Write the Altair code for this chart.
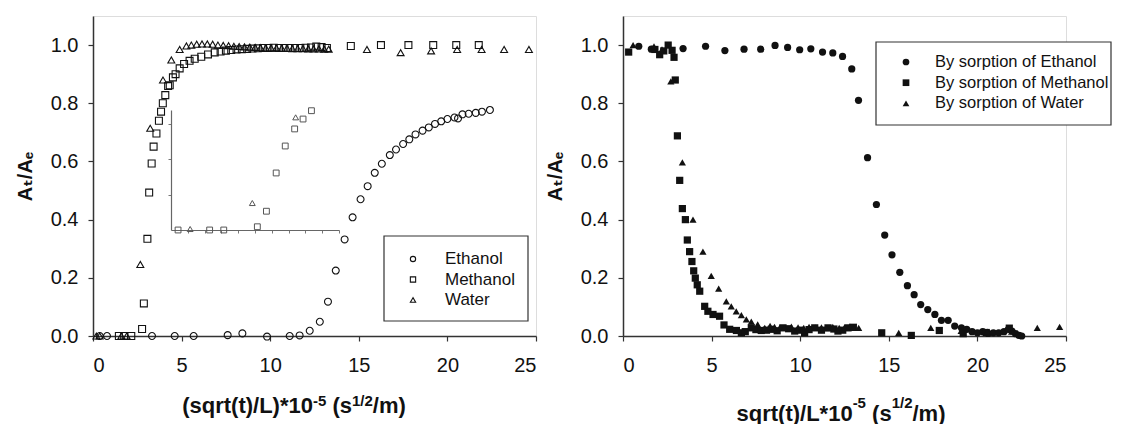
import altair as alt
import pandas as pd

# ---------------- Left panel: sorption (open symbols) ----------------
eth_L_x = [0.38, 0.79, 3.33, 4.61, 5.68, 7.6, 8.43, 9.82, 11.1, 11.66, 12.23, 12.8, 13.26, 13.7, 14.2,
           14.65, 15.1, 15.5, 15.9, 16.3, 16.75, 17.1, 17.5, 17.85, 18.2, 18.6, 18.95, 19.3, 19.65, 20.0,
           20.4, 20.6, 20.85, 21.2, 21.6, 21.95, 22.4]
eth_L_y = [0.0, 0.0, 0.0, 0.0, 0.0, 0.003, 0.009, -0.002, 0.0, 0.002, 0.018, 0.049, 0.118, 0.225, 0.332,
           0.408, 0.47, 0.515, 0.561, 0.592, 0.622, 0.641, 0.66, 0.676, 0.693, 0.706, 0.717, 0.729, 0.738, 0.746,
           0.751, 0.748, 0.762, 0.764, 0.767, 0.771, 0.777]

meth_L_x = [1.46, 1.76, 2.16, 2.77, 2.87, 3.07, 3.17, 3.31, 3.42, 3.58, 3.72, 3.84, 3.94, 4.08, 4.24,
            4.33, 4.51, 4.66, 4.89, 5.14, 5.45, 5.74, 6.11, 6.49, 6.87, 7.2, 7.5, 7.8, 8.1, 8.4,
            8.7, 9.0, 9.3, 9.6, 9.9, 10.2, 10.5, 10.8, 11.1, 11.4, 11.7, 12.0, 12.3, 12.6, 12.9,
            13.2, 14.55, 16.25, 17.8, 19.2, 20.5, 21.77]
meth_L_y = [0.0, 0.0, 0.0, 0.024, 0.112, 0.334, 0.493, 0.593, 0.651, 0.696, 0.74, 0.771, 0.8, 0.828, 0.859,
            0.862, 0.889, 0.9, 0.92, 0.935, 0.946, 0.953, 0.96, 0.968, 0.975, 0.978, 0.981, 0.983, 0.985, 0.986,
            0.987, 0.988, 0.989, 0.99, 0.99, 0.991, 0.99, 0.99, 0.99, 0.99, 0.99, 0.991, 0.992, 0.995, 0.993,
            0.99, 0.997, 1.0, 1.0, 1.0, 1.0, 1.0]

water_L_x = [0.19, 0.38, 1.6, 1.9, 2.67, 3.23, 3.95, 4.42, 4.89, 5.27, 5.55, 5.85, 6.15, 6.45, 6.75,
             7.05, 7.35, 7.65, 7.95, 8.25, 8.55, 8.85, 9.15, 9.45, 9.75, 10.05, 10.35, 10.65, 10.95, 11.25,
             11.55, 11.85, 12.15, 12.45, 12.75, 13.05, 13.3, 15.46, 17.36, 19.08, 20.55, 21.93, 23.2, 24.6]
water_L_y = [0.0, 0.0, 0.0, 0.0, 0.246, 0.714, 0.88, 0.949, 0.985, 0.997, 1.0, 1.003, 1.004, 1.004, 1.003,
             1.0, 0.999, 0.998, 0.996, 0.995, 0.994, 0.993, 0.992, 0.991, 0.99, 0.99, 0.99, 0.989, 0.989, 0.988,
             0.988, 0.988, 0.987, 0.987, 0.987, 0.986, 0.986, 0.985, 0.974, 0.98, 0.985, 0.985, 0.985, 0.985]

# inset (magnified early region, own scale)
inset_series = ["Methanol", "Water", "Methanol", "Methanol", "Methanol", "Water", "Methanol",
                "Methanol", "Methanol", "Methanol", "Water", "Methanol", "Methanol"]
inset_x = [0.21, 0.57, 1.15, 1.57, 2.57, 2.42, 2.84, 3.13, 3.40, 3.68, 3.71, 3.93, 4.18]
inset_y = [0.0, 0.007, 0.0, 0.0, 0.023, 0.191, 0.133, 0.404, 0.595, 0.716, 0.798, 0.786, 0.845]

# ---------------- Right panel: desorption (filled symbols) ----------------
eth_R_x = [0.89, 1.6, 3.39, 4.66, 5.75, 6.83, 7.77, 8.58, 9.29, 9.97, 10.6, 11.26, 11.84, 12.39, 12.91,
           13.29, 13.8, 14.3, 14.77, 15.18, 15.62, 16.05, 16.43, 16.8, 17.2, 17.6, 17.97, 18.35, 18.72, 19.1,
           19.4, 19.7, 20.0, 20.3, 20.6, 20.9, 21.2, 21.5, 21.75, 21.95, 22.15, 22.35, 22.5]
eth_R_y = [0.996, 0.986, 0.988, 0.996, 0.981, 0.986, 0.986, 0.999, 0.992, 0.984, 0.987, 0.976, 0.973, 0.961, 0.918,
           0.81, 0.613, 0.452, 0.347, 0.279, 0.219, 0.173, 0.142, 0.108, 0.091, 0.074, 0.054, 0.054, 0.034, 0.028,
           0.023, 0.015, 0.011, 0.015, 0.009, 0.011, 0.011, 0.015, 0.023, 0.017, 0.008, 0.002, 0.0]

meth_R_x = [0.32, 1.8, 2.07, 2.3, 2.55, 2.77, 2.88, 2.95, 3.07, 3.2, 3.35, 3.52, 3.63, 3.76, 3.89,
            3.99, 4.08, 4.19, 4.33, 4.61, 4.79, 5.08, 5.45, 5.7, 6.02, 6.4, 6.68, 6.9, 7.24, 7.5,
            7.8, 8.1, 8.37, 8.7, 9.03, 9.35, 9.69, 10.0, 10.25, 10.5, 10.82, 11.2, 11.57, 11.9, 12.13,
            12.4, 12.7, 13.0, 14.6, 16.27, 17.85, 19.2, 20.5, 21.8]
meth_R_y = [0.976, 0.985, 0.967, 0.98, 1.0, 0.982, 0.958, 0.88, 0.688, 0.535, 0.438, 0.40, 0.33, 0.29, 0.256,
            0.224, 0.199, 0.176, 0.154, 0.102, 0.085, 0.074, 0.068, 0.038, 0.023, 0.019, 0.011, 0.015, 0.028, 0.022,
            0.019, 0.02, 0.023, 0.018, 0.028, 0.025, 0.017, 0.02, 0.011, 0.022, 0.028, 0.02, 0.028, 0.024, 0.017,
            0.02, 0.028, 0.03, 0.011, 0.002, 0.019, 0.008, 0.012, 0.027]

water_R_x = [0.57, 1.75, 2.2, 2.7, 2.85, 3.35, 3.95, 4.51, 4.98, 5.4, 5.83, 6.11, 6.39, 6.68, 6.96,
             7.24, 7.6, 8.0, 8.3, 8.55, 8.85, 9.1, 9.5, 9.88, 10.2, 10.5, 10.85, 11.2, 11.5, 11.84,
             12.2, 12.5, 12.8, 13.0, 13.3, 15.56, 17.37, 19.08, 20.55, 21.93, 23.38, 24.64]
water_R_y = [1.0, 0.996, 0.985, 0.875, 0.88, 0.597, 0.40, 0.29, 0.207, 0.163, 0.119, 0.102, 0.085, 0.072, 0.057,
             0.049, 0.04, 0.028, 0.035, 0.031, 0.03, 0.028, 0.032, 0.03, 0.028, 0.031, 0.029, 0.03, 0.027, 0.031,
             0.028, 0.03, 0.033, 0.028, 0.028, 0.011, 0.028, 0.018, 0.015, 0.015, 0.028, 0.031]

left_names = ["Ethanol", "Methanol", "Water"]
right_names = ["By sorption of Ethanol", "By sorption of Methanol", "By sorption of Water"]
shapes = ["circle", "square", "triangle-up"]
x_ticks = [0, 5, 10, 15, 20, 25]
y_ticks = [0.0, 0.2, 0.4, 0.6, 0.8, 1.0]
inset_x_ticks = [0.5, 1.0, 1.5, 2.0, 2.5, 3.0, 3.5, 4.0, 4.5, 5.0]
inset_y_ticks = [0.25, 0.5, 0.75]

# axis titles: (text, superscript?) pieces
left_title = [("(sqrt(t)/L)*10", False), ("-5", True), (" (s", False), ("1/2", True), ("/m)", False)]
right_title = [("sqrt(t)/L*10", False), ("-5", True), (" (s", False), ("1/2", True), ("/m)", False)]
y_title = "Aₜ/Aₑ"


def frame(names, xs, ys):
    rows = []
    for n, xv, yv in zip(names, xs, ys):
        rows += [{"series": n, "x": a, "y": b} for a, b in zip(xv, yv)]
    return pd.DataFrame(rows)


left_df = frame(left_names, [eth_L_x, meth_L_x, water_L_x], [eth_L_y, meth_L_y, water_L_y])
right_df = frame(right_names, [eth_R_x, meth_R_x, water_R_x], [eth_R_y, meth_R_y, water_R_y])
inset_df = pd.DataFrame({"series": inset_series, "x": inset_x, "y": inset_y})

FONT = "Liberation Sans, Arial, DejaVu Sans"
INK = "#111111"
W, H = 443, 320
BIG, SMALL = 22, 15

# Arial-bold advance widths (per em) for laying out the composed axis titles
ADV = {"(": .333, ")": .333, "s": .556, "q": .611, "r": .389, "t": .333, "/": .278, "L": .611,
       "*": .389, "1": .556, "0": .556, " ": .278, "m": .889, "-": .333, "5": .556, "2": .556}

axis_style = dict(domainColor="#333333", domainWidth=1.5, tickColor="#333333", tickWidth=1.2,
                  tickSize=5, labelFont=FONT, labelFontSize=20, labelColor=INK,
                  titleFont=FONT, titleFontSize=20, titleFontWeight="bold", titleColor=INK, grid=False)

shape_left = alt.Scale(domain=left_names, range=shapes)
shape_right = alt.Scale(domain=right_names, range=shapes)


def x_axis():
    return alt.Axis(values=x_ticks, format="d", title=None, labelPadding=14, **axis_style)


def y_axis():
    return alt.Axis(values=y_ticks, format=".1f", title=y_title, titlePadding=15, labelPadding=10,
                    **axis_style)


def title_layers(pieces, center_x, base_y, sup_y):
    widths = [sum(ADV[c] for c in t) * (SMALL if sup else BIG) for t, sup in pieces]
    x0 = center_x - sum(widths) / 2
    rows = []
    for (t, sup), w in zip(pieces, widths):
        lead = len(t) - len(t.lstrip(" "))
        shift = lead * ADV[" "] * (SMALL if sup else BIG)
        rows.append({"t": t.strip(), "px": x0 + shift, "py": sup_y if sup else base_y, "sup": sup})
        x0 += w
    df = pd.DataFrame(rows)
    big = alt.Chart(df).transform_filter("!datum.sup").mark_text(
        align="left", baseline="alphabetic", font=FONT, fontSize=BIG, fontWeight="bold", color=INK
    ).encode(x=alt.X("px:Q", scale=None), y=alt.Y("py:Q", scale=None), text="t:N")
    small = alt.Chart(df).transform_filter("datum.sup").mark_text(
        align="left", baseline="alphabetic", font=FONT, fontSize=SMALL, fontWeight="bold", color=INK
    ).encode(x=alt.X("px:Q", scale=None), y=alt.Y("py:Q", scale=None), text="t:N")
    return [big, small]


def legend_layers(names, scale, box, sym_x, text_x, row0, row_step, filled, sym_size, font_size):
    ldf = pd.DataFrame({"series": names, "i": list(range(len(names)))})
    x1, x2, y1, y2 = box
    frame_mark = alt.Chart(pd.DataFrame({"k": [0]})).mark_rect(
        fill="white", stroke="#333333", strokeWidth=1.2
    ).encode(x=alt.value(x1), x2=alt.value(x2), y=alt.value(y1), y2=alt.value(y2))
    base = alt.Chart(ldf).transform_calculate(py=f"{row0} + {row_step} * datum.i")
    syms = base.mark_point(filled=filled, color=INK, size=sym_size, strokeWidth=1.1, opacity=1).encode(
        x=alt.value(sym_x), y=alt.Y("py:Q", scale=None),
        shape=alt.Shape("series:N", scale=scale, legend=None))
    labels = base.mark_text(align="left", baseline="middle", font=FONT, fontSize=font_size, color=INK).encode(
        x=alt.value(text_x), y=alt.Y("py:Q", scale=None), text="series:N")
    return [frame_mark, syms, labels]


left_pts = alt.Chart(left_df).mark_point(filled=False, color=INK, size=48, strokeWidth=1.1, opacity=1).encode(
    x=alt.X("x:Q", scale=alt.Scale(domain=[0, 25], nice=False), axis=x_axis()),
    y=alt.Y("y:Q", scale=alt.Scale(domain=[0, 1.1], nice=False), axis=y_axis()),
    shape=alt.Shape("series:N", scale=shape_left, legend=None),
)

inset_pts = alt.Chart(inset_df).mark_point(filled=False, color="#555555", size=34, strokeWidth=1, opacity=1).encode(
    x=alt.X("x:Q", scale=alt.Scale(domain=[0, 5], range=[78, 246], nice=False),
            axis=alt.Axis(orient="bottom", offset=-106, labels=False, title=None, values=inset_x_ticks,
                          tickSize=3, domainColor="#666666", tickColor="#777777", domainWidth=1.2, grid=False)),
    y=alt.Y("y:Q", scale=alt.Scale(domain=[0, 0.85], range=[214, 94], nice=False),
            axis=alt.Axis(orient="left", offset=-78, labels=False, title=None, values=inset_y_ticks,
                          tickSize=3, domainColor="#666666", tickColor="#777777", domainWidth=1.2, grid=False)),
    shape=alt.Shape("series:N", scale=shape_left, legend=None),
)

left = alt.layer(
    left_pts, inset_pts,
    *legend_layers(left_names, shape_left, (291, 435, 220, 305), 320, 352, 243, 20.5, False, 28, 17),
    *title_layers(left_title, 201, 397, 390),
).resolve_scale(x="independent", y="independent").properties(width=W, height=H)

right_pts = alt.Chart(right_df).mark_point(filled=True, color=INK, size=52, opacity=1).encode(
    x=alt.X("x:Q", scale=alt.Scale(domain=[0, 25], nice=False), axis=x_axis()),
    y=alt.Y("y:Q", scale=alt.Scale(domain=[0, 1.1], nice=False), axis=y_axis()),
    shape=alt.Shape("series:N", scale=shape_right, legend=None),
)

right = alt.layer(
    right_pts,
    *legend_layers(right_names, shape_right, (253, 488, 26, 109), 283, 312, 46, 20.7, True, 45, 16.5),
    *title_layers(right_title, 218, 405, 392),
).properties(width=W, height=H)

chart = alt.hconcat(left, right, spacing=87, bounds="flush").resolve_scale(
    x="independent", y="independent", shape="independent"
).properties(
    padding={"left": 6, "top": 7, "right": 0, "bottom": 0}
).configure_view(stroke=None).configure(background="white")

chart.save("out.html", embed_options={"renderer": "svg", "actions": False})
